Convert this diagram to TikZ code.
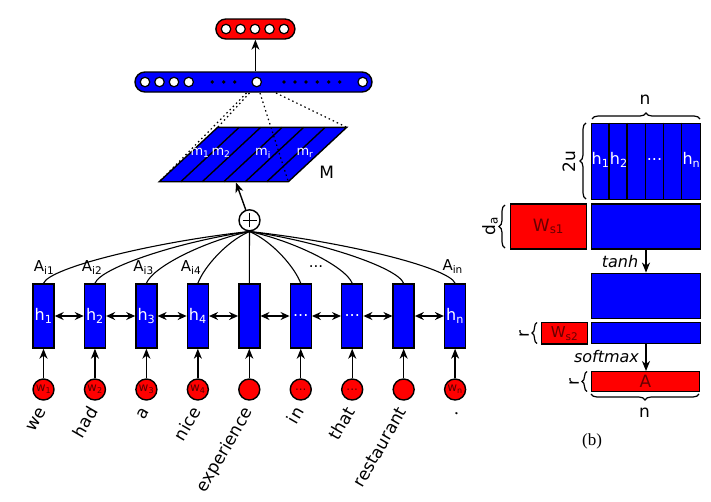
\documentclass[tikz,border=0pt]{standalone}
\usepackage{fontspec}
\setmainfont{DejaVu Sans}
\newfontfamily\serifb{Liberation Serif}
\usetikzlibrary{arrows.meta,decorations.pathreplacing,calc}
\newcommand\mydots{...}
\begin{document}
\begin{tikzpicture}[x=1pt,y=-1pt,line width=1.4pt,
  hbox/.style={draw, fill=blue, minimum width=21pt, minimum height=64pt, inner sep=0pt, text=white, font=\fontsize{16}{16}\selectfont},
  wcirc/.style={draw, fill=red, circle, minimum size=21pt, inner sep=0pt, text=black!65!red, font=\fontsize{12}{12}\selectfont},
  wlab/.style={rotate=60, anchor=base east, font=\fontsize{17}{17}\selectfont, inner sep=0pt},
  alab/.style={font=\fontsize{15}{15}\selectfont, inner sep=0pt},
  whc/.style={draw, fill=white, circle, minimum size=9.5pt, inner sep=0pt, line width=1.2pt},
  dotc/.style={fill=black, circle, minimum size=3.8pt, inner sep=0pt},
  tip/.style={-{Stealth[length=10pt,width=8pt,inset=3pt]}},
  dtip/.style={{Stealth[length=9pt,width=8pt,inset=3pt]}-{Stealth[length=9pt,width=8pt,inset=3pt]}},
  brc/.style={decorate, decoration={brace, amplitude=#1}},
  brc/.default=6pt,
  bbox/.style={draw, fill=blue, inner sep=0pt},
  rbox/.style={draw, fill=red, inner sep=0pt, text=black!60!red, font=\fontsize{17}{17}\selectfont},
  lab/.style={font=\fontsize{17}{17}\selectfont, inner sep=0pt},
  mlab/.style={text=white, font=\fontsize{13}{13}\selectfont, inner sep=0pt},
  hlab/.style={text=white, font=\fontsize{16}{16}\selectfont, inner sep=0pt},
  dotl/.style={line width=1.2pt, dash pattern=on 1.5pt off 3pt},
]
\useasboundingbox (0,0) rectangle (711,501);

% ---- top red output bar
\node[draw, fill=red, rounded corners=10pt, minimum width=79pt, minimum height=20pt, inner sep=0pt] (topbar) at (255.4,29) {};
\foreach \x [count=\k] in {226,240.5,255,269.5,284}
  \node[whc] (tc\k) at (\x,29) {};

% ---- blue sentence embedding bar
\node[draw, fill=blue, rounded corners=10pt, minimum width=237pt, minimum height=20pt, inner sep=0pt] (bar) at (253.5,82) {};
\foreach \x [count=\k] in {145,159.5,174,188.7}
  \node[whc] (bc\k) at (\x,82) {};
\foreach \x [count=\k] in {212.3,223.7,234.7,284,295,306,317.3,328.7,339.7}
  \node[dotc] (bd\k) at (\x,82) {};
\node[whc] (c0) at (256.7,82) {};
\node[whc] (cn) at (362.7,82) {};
\draw[tip] (topbar.south |- bar.north) -- (topbar.south);

% ---- matrix M (parallelogram)
\coordinate (BL) at (159.3,181.7);
\coordinate (BR) at (288.3,181.7);
\coordinate (TR) at (346.7,127.3);
\coordinate (TL) at (217.7,127.3);
\draw[fill=blue] (BL) -- (BR) -- (TR) -- (TL) -- cycle;
\foreach \k in {1,2,3,4,5}
  \draw ($(BL)+(21.5*\k,0)$) -- ($(TL)+(21.5*\k,0)$);
\node[mlab] (m1) at (200,153) {m\textsubscript{1}};
\node[mlab] (m2) at (221,153) {m\textsubscript{2}};
\node[mlab] (mi) at (263,153) {m\textsubscript{i}};
\node[mlab] (mr) at (305,153) {m\textsubscript{r}};
\node[lab] (Mlab) at (326.7,172) {M};

% dotted projection lines
\coordinate (s1) at (246.5,93);
\coordinate (s2) at (249.5,93);
\coordinate (s3) at (260,93);
\coordinate (s4) at (276,93);
\draw[dotl] (s1) -- (BL);
\draw[dotl] (s2) -- (TL);
\draw[dotl] (s3) -- (BR);
\draw[dotl] (s4) -- (TR);

% ---- plus node
\node[draw, circle, minimum size=21pt, inner sep=0pt] (plus) at (249.5,220.3) {};
\draw ([xshift=-7pt]plus.center) -- ([xshift=7pt]plus.center);
\draw ([yshift=-7pt]plus.center) -- ([yshift=7pt]plus.center);
\coordinate (mpt) at (236,182.5);
\draw[tip] (plus) -- (mpt);

% ---- hidden states, words
\foreach \i/\hl/\wl/\word in {
 1/h\textsubscript{1}/w\textsubscript{1}/we,
 2/h\textsubscript{2}/w\textsubscript{2}/had,
 3/h\textsubscript{3}/w\textsubscript{3}/a,
 4/h\textsubscript{4}/w\textsubscript{4}/nice,
 5/{}/{}/experience,
 6/\mydots/\mydots/in,
 7/\mydots/\mydots/that,
 8/{}/{}/restaurant,
 9/h\textsubscript{n}/w\textsubscript{n}/.}
{
 \pgfmathsetmacro\cx{43.5+51.45*(\i-1)}
 \node[hbox] (h\i) at (\cx,316) {\hl};
 \node[wcirc] (w\i) at (\cx,389.5) {\wl};
 \node[wlab] (t\i) at (\cx+4,411) {\word};
 \draw[tip] (w\i) -- (h\i);
}
\foreach \i [evaluate=\i as \j using int(\i+1)] in {1,2,3,4,5,6,7,8}
  \draw[dtip] (h\i.east) -- (h\j.west);

% attention curves
\foreach \i in {1,2,3,4,6,7,8,9}{
 \pgfmathsetmacro\d{43.5+51.45*(\i-1)-249.5}
 \pgfmathsetmacro\s{\d<0 ? 6 : -6}
 \draw[line width=1.1pt] (plus.south) .. controls +(0.45*\d,10) and +(\s,-16) .. (h\i.north);
}
\draw[line width=1.1pt] (plus.south) -- (h5.north);

\node[alab] (a1) at (44,268) {A\textsubscript{i1}};
\node[alab] (a2) at (92,268) {A\textsubscript{i2}};
\node[alab] (a3) at (143.5,268) {A\textsubscript{i3}};
\node[alab] (a4) at (191,268) {A\textsubscript{i4}};
\node[alab] (adots) at (316,267) {\mydots};
\node[alab] (an) at (452.7,267) {A\textsubscript{in}};

% ---- right panel
\node[bbox, minimum width=109pt, minimum height=76pt] (Hm) at (646,161.3) {};
\foreach \k in {1,2,3,4,5}
  \draw ($(Hm.north west)+(18.1667*\k,0)$) -- ($(Hm.south west)+(18.1667*\k,0)$);
\node[hlab] (hh1) at (600.6,160) {h\textsubscript{1}};
\node[hlab] (hh2) at (618.8,160) {h\textsubscript{2}};
\node[hlab] (hhd) at (654.5,160) {\mydots};
\node[hlab] (hhn) at (691.4,160) {h\textsubscript{n}};

\node[rbox, minimum width=76pt, minimum height=45pt] (Ws1) at (548.5,226.5) {W\textsubscript{s1}};
\node[bbox, minimum width=109pt, minimum height=45pt] (B2) at (646,226.5) {};
\node[bbox, minimum width=109pt, minimum height=45pt] (B3) at (646,295.8) {};
\node[rbox, minimum width=45.6pt, minimum height=21.5pt, font=\fontsize{15}{15}\selectfont] (Ws2) at (564.5,333.2) {W\textsubscript{s2}};
\node[bbox, minimum width=109pt, minimum height=21pt] (B4) at (646,333.2) {};
\node[rbox, minimum width=108pt, minimum height=20pt] (Amat) at (645.5,381.7) {A};

\draw[tip] (B2.south) -- (B3.north);
\draw[tip] (B4.south) -- (B4.south |- Amat.north);
\node[lab, font=\fontsize{16}{16}\selectfont\itshape] (tanhl) at (620,261.5) {tanh};
\node[lab, font=\fontsize{16}{16}\selectfont\itshape] (softl) at (606.5,356.5) {softmax};

% braces
\draw[brc, line width=1.2pt] (592,119) -- (700,119);
\node[lab] (ntop) at (645,100) {n};
\draw[brc, line width=1.2pt] (586,199) -- (586,123);
\node[lab, rotate=90] (twou) at (569,161.5) {2u};
\draw[brc, line width=1.2pt] (505,248) -- (505,205);
\node[lab, rotate=90] (da) at (490,226) {d\textsubscript{a}};
\draw[brc=5pt, line width=1.2pt] (537,343.5) -- (537,322.5);
\node[lab, rotate=90] (r1) at (524,334) {r};
\draw[brc=5pt, line width=1.2pt] (587,391.5) -- (587,371.5);
\node[lab, rotate=90] (r2) at (574,382) {r};
\draw[brc, line width=1.2pt] (699,394) -- (591,394);
\node[lab] (nbot) at (644.5,413) {n};
\node[font=\serifb\fontsize{17}{17}\selectfont, inner sep=0pt] (blab) at (592,441) {(b)};
\end{tikzpicture}
\end{document}
